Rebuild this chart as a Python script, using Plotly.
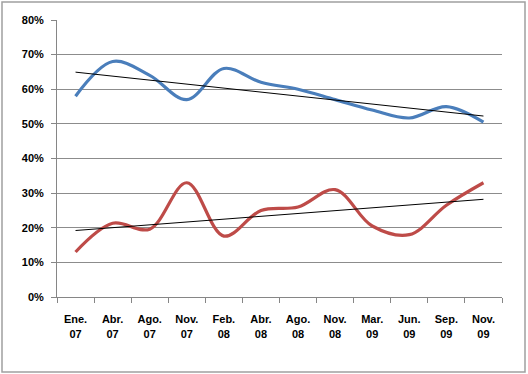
import numpy as np
import plotly.graph_objects as go

categories = ["Ene.<br>07", "Abr.<br>07", "Ago.<br>07", "Nov.<br>07", "Feb.<br>08", "Abr.<br>08",
              "Ago.<br>08", "Nov.<br>08", "Mar.<br>09", "Jun.<br>09", "Sep.<br>09", "Nov.<br>09"]
blue_values = [0.58, 0.68, 0.64, 0.57, 0.66, 0.62, 0.60, 0.57, 0.54, 0.517, 0.55, 0.505]
red_values = [0.13, 0.213, 0.196, 0.33, 0.176, 0.25, 0.26, 0.31, 0.205, 0.18, 0.265, 0.33]
y_ticks = [0, 0.1, 0.2, 0.3, 0.4, 0.5, 0.6, 0.7, 0.8]
y_tick_labels = ["0%", "10%", "20%", "30%", "40%", "50%", "60%", "70%", "80%"]

idx = np.arange(len(categories))

def trend(vals):
    m, b = np.polyfit(idx, vals, 1)
    return list(m * idx + b)

fig = go.Figure()
fig.add_trace(go.Scatter(x=categories, y=blue_values, mode="lines",
                         line=dict(color="#4a7ebb", width=3.2, shape="spline", smoothing=1)))
fig.add_trace(go.Scatter(x=categories, y=red_values, mode="lines",
                         line=dict(color="#be4b48", width=3.2, shape="spline", smoothing=1)))
fig.add_trace(go.Scatter(x=categories, y=trend(blue_values), mode="lines",
                         line=dict(color="black", width=1)))
fig.add_trace(go.Scatter(x=categories, y=trend(red_values), mode="lines",
                         line=dict(color="black", width=1)))

tfont = dict(family="Liberation Sans", size=11, color="black", weight="bold")
fig.update_layout(
    width=528, height=374,
    margin=dict(l=57, r=26, t=20, b=77),
    paper_bgcolor="white", plot_bgcolor="white",
    showlegend=False,
    font=dict(family="Liberation Sans", size=11, color="black"),
    xaxis=dict(type="category", range=[-0.5, 11.5], showgrid=False, automargin=False,
               showline=True, linecolor="#868686", linewidth=1,
               ticks="outside", tickson="boundaries", ticklen=5, tickcolor="#868686",
               ticklabelstandoff=12, tickfont=tfont, zeroline=False),
    yaxis=dict(range=[0, 0.8], tickvals=y_ticks, ticktext=y_tick_labels, automargin=False,
               showgrid=True, gridcolor="#8c8c8c", gridwidth=1,
               showline=True, linecolor="#868686", linewidth=1,
               ticks="outside", ticklen=5, tickcolor="#868686",
               ticklabelstandoff=5, tickfont=tfont, zeroline=False),
)
fig.add_shape(type="rect", xref="paper", yref="paper", x0=-55/445, x1=(445+23)/445,
              y0=-75/277, y1=(277+18)/277, line=dict(color="#a0a0a0", width=1.5))
fig.write_html("out.html", config={"displayModeBar": False},
               post_script="document.body.style.margin='0';")
